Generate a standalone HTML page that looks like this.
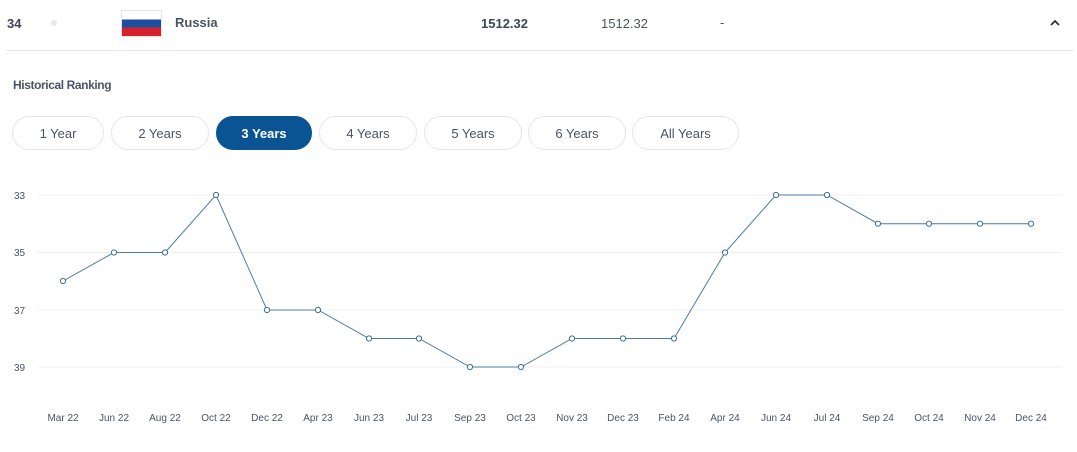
<!DOCTYPE html><html><head><style>
body{margin:0;width:1077px;height:452px;background:#fff;font-family:"Liberation Sans",sans-serif;position:relative;overflow:hidden}
.a{position:absolute;white-space:nowrap}
.b{position:absolute;top:116px;height:34px;border:1px solid #e3e6ea;border-radius:18px;box-sizing:border-box;font-size:13px;color:#4a5463;text-align:center;line-height:33px}
</style></head><body>
<div class="a" style="left:7px;top:16px;font-size:13px;font-weight:bold;color:#3f4756">34</div>
<div class="a" style="left:51px;top:20px;width:6px;height:6px;border-radius:3px;background:#e5e8ec"></div>
<div class="a" style="left:121px;top:10px;width:41px;height:27px;border:1px solid #e6e6e6;box-sizing:border-box;background:linear-gradient(#fff 0 33%,#1c4fa3 33% 66%,#d8202a 66%)"></div>
<div class="a" style="left:175px;top:15px;font-size:13px;font-weight:bold;color:#4a5463">Russia</div>
<div class="a" style="left:481px;top:16px;font-size:13px;font-weight:bold;color:#3f4756">1512.32</div>
<div class="a" style="left:601px;top:16px;font-size:13px;color:#4a5463">1512.32</div>
<div class="a" style="left:720px;top:15px;font-size:13px;color:#4a5463">-</div>
<svg class="a" style="left:1049px;top:18px" width="12" height="10"><path d="M2 7L6 3L10 7" stroke="#333" stroke-width="1.8" fill="none"/></svg>
<div class="a" style="left:6px;top:50px;width:1067px;height:1px;background:#e3e6ea"></div>
<div class="a" style="left:13px;top:78px;font-size:12px;font-weight:bold;color:#4a5463;letter-spacing:-0.4px">Historical Ranking</div>
<div class="b" style="left:12px;width:92px">1 Year</div>
<div class="b" style="left:111px;width:98px">2 Years</div>
<div class="b" style="left:216px;width:96px;background:#0b5494;border-color:#0b5494;color:#fff;font-weight:bold">3 Years</div>
<div class="b" style="left:319px;width:98px">4 Years</div>
<div class="b" style="left:424px;width:98px">5 Years</div>
<div class="b" style="left:528px;width:98px">6 Years</div>
<div class="b" style="left:632px;width:107px">All Years</div>
<svg class="a" style="left:0;top:0" width="1077" height="452" font-family="Liberation Sans, sans-serif" font-size="10" fill="#4a5463">
<g stroke="#eef0f2" stroke-width="1">
<line x1="38" y1="195" x2="1062" y2="195"/><line x1="38" y1="252.5" x2="1062" y2="252.5"/><line x1="38" y1="310" x2="1062" y2="310"/><line x1="38" y1="367" x2="1062" y2="367"/></g>
<g text-anchor="start"><text x="14" y="199">33</text><text x="14" y="256">35</text><text x="14" y="314">37</text><text x="14" y="371">39</text></g>
<polyline fill="none" stroke="#4b7ca0" stroke-width="1" points="63,281 114,252.5 165,252.5 216,195 267,310 318,310 369,338.5 419,338.5 470,367 521,367 572,338.5 623,338.5 674,338.5 725,252.5 776,195 827,195 878,223.7 929,223.7 980,223.7 1031,223.7"/>
<g fill="#fff" stroke="#3d6f96" stroke-width="1">
<circle cx="63" cy="281" r="2.6"/><circle cx="114" cy="252.5" r="2.6"/><circle cx="165" cy="252.5" r="2.6"/><circle cx="216" cy="195" r="2.6"/><circle cx="267" cy="310" r="2.6"/><circle cx="318" cy="310" r="2.6"/><circle cx="369" cy="338.5" r="2.6"/><circle cx="419" cy="338.5" r="2.6"/><circle cx="470" cy="367" r="2.6"/><circle cx="521" cy="367" r="2.6"/><circle cx="572" cy="338.5" r="2.6"/><circle cx="623" cy="338.5" r="2.6"/><circle cx="674" cy="338.5" r="2.6"/><circle cx="725" cy="252.5" r="2.6"/><circle cx="776" cy="195" r="2.6"/><circle cx="827" cy="195" r="2.6"/><circle cx="878" cy="223.7" r="2.6"/><circle cx="929" cy="223.7" r="2.6"/><circle cx="980" cy="223.7" r="2.6"/><circle cx="1031" cy="223.7" r="2.6"/></g>
<g text-anchor="middle">
<text x="63" y="421">Mar 22</text><text x="114" y="421">Jun 22</text><text x="165" y="421">Aug 22</text><text x="216" y="421">Oct 22</text><text x="267" y="421">Dec 22</text><text x="318" y="421">Apr 23</text><text x="369" y="421">Jun 23</text><text x="419" y="421">Jul 23</text><text x="470" y="421">Sep 23</text><text x="521" y="421">Oct 23</text><text x="572" y="421">Nov 23</text><text x="623" y="421">Dec 23</text><text x="674" y="421">Feb 24</text><text x="725" y="421">Apr 24</text><text x="776" y="421">Jun 24</text><text x="827" y="421">Jul 24</text><text x="878" y="421">Sep 24</text><text x="929" y="421">Oct 24</text><text x="980" y="421">Nov 24</text><text x="1031" y="421">Dec 24</text></g>
</svg>
</body></html>
